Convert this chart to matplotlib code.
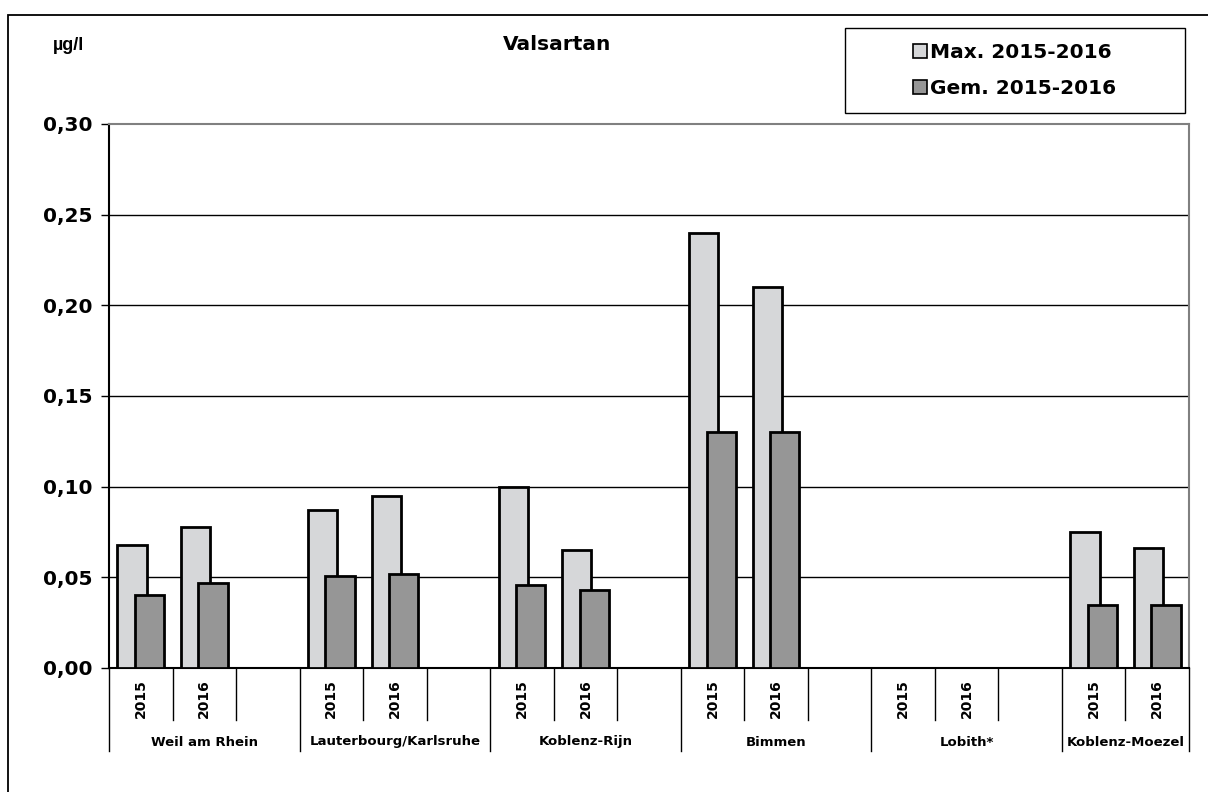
import matplotlib
matplotlib.use("Agg")
import matplotlib.pyplot as plt
from matplotlib.patches import Rectangle, Patch
import matplotlib.transforms as mtransforms
import numpy as np

# ---- data ----
stations = ["Weil am Rhein", "Lauterbourg/Karlsruhe", "Koblenz-Rijn", "Bimmen", "Lobith*", "Koblenz-Moezel"]
years = ["2015", "2016"]
# one slot per category; empty slots (None) separate stations
max_values = [0.068, 0.078, None,
              0.087, 0.095, None,
              0.100, 0.065, None,
              0.240, 0.210, None,
              None, None, None,
              0.075, 0.066]
gem_values = [0.040, 0.047, None,
              0.051, 0.052, None,
              0.046, 0.043, None,
              0.130, 0.130, None,
              None, None, None,
              0.035, 0.035]
slot_labels = ["2015", "2016", "",
               "2015", "2016", "",
               "2015", "2016", "",
               "2015", "2016", "",
               "2015", "2016", "",
               "2015", "2016"]
station_slots = [3, 3, 3, 3, 3, 2]
yticks = [0.00, 0.05, 0.10, 0.15, 0.20, 0.25, 0.30]
series_names = ["Max. 2015-2016", "Gem. 2015-2016"]
c_max = "#d6d7d9"
c_gem = "#969696"

W, H = 1208, 792
fig = plt.figure(figsize=(W / 100, H / 100), dpi=100)

# outer frame
fig.patches.append(Rectangle((8 / W, -0.01), 1.02 - 8 / W, 1 - 15 / H + 0.01,
                             transform=fig.transFigure, fill=False,
                             edgecolor="black", linewidth=1.3))

ax_l, ax_r, ax_t, ax_b = 109, 1189, 124, 668
ax = fig.add_axes([ax_l / W, 1 - ax_b / H, (ax_r - ax_l) / W, (ax_b - ax_t) / H])

n = len(max_values)
x = np.arange(n)
bw = 0.46
off = 0.137
mv = np.array([v if v is not None else np.nan for v in max_values])
gv = np.array([v if v is not None else np.nan for v in gem_values])

ax.bar(x - off, mv, width=bw, color=c_max, edgecolor="black", linewidth=2.0, zorder=3)
ax.bar(x + off, gv, width=bw, color=c_gem, edgecolor="black", linewidth=2.0, zorder=4)

ax.set_xlim(-0.5, n - 0.5)
ax.set_ylim(0, 0.30)
ax.set_yticks(yticks)
ax.set_yticklabels([f"{v:.2f}".replace(".", ",") for v in yticks],
                   fontsize=14.5, fontweight="bold", family="DejaVu Sans")
ax.tick_params(axis="y", direction="out", length=6, width=1, pad=6)
ax.set_xticks([])
for yv in yticks[1:-1]:
    ax.axhline(yv, color="black", linewidth=1.0, zorder=1)

for s in ["top", "right"]:
    ax.spines[s].set_color("#808080")
    ax.spines[s].set_linewidth(1.5)
ax.spines["left"].set_linewidth(1.5)
ax.spines["bottom"].set_linewidth(1.5)

# category axis: separators and labels
trans = mtransforms.blended_transform_factory(ax.transData, ax.transAxes)
px = 1 / (ax_b - ax_t)
minor_end = -(720 - ax_b) * px
major_end = -(751 - ax_b) * px
year_y = -(699 - ax_b) * px
station_y = -(742 - ax_b) * px

group_edges = [-0.5]
for k in station_slots:
    group_edges.append(group_edges[-1] + k)
for b in np.arange(-0.5, n, 1.0):
    is_major = any(abs(b - g) < 1e-9 for g in group_edges)
    ax.plot([b, b], [0, major_end if is_major else minor_end], color="black",
            linewidth=1.0, transform=trans, clip_on=False)

for i, lab in enumerate(slot_labels):
    if lab:
        ax.text(i, year_y, lab, rotation=90, ha="center", va="center",
                fontsize=10, fontweight="bold", transform=trans)

for k, name in enumerate(stations):
    cx = (group_edges[k] + group_edges[k + 1]) / 2
    ax.text(cx, station_y, name, ha="center", va="center",
            fontsize=9.5, fontweight="bold", transform=trans)

# titles
fig.text(557 / W, 1 - 45 / H, "Valsartan", ha="center", va="center",
         fontsize=14.5, fontweight="bold", family="DejaVu Sans")
fig.text(68 / W, 1 - 46 / H, "µg/l", ha="center", va="center",
         fontsize=13, fontweight="bold", family="Liberation Sans")

# legend box
lx0, lx1, ly0, ly1 = 845, 1185, 28, 113
fig.patches.append(Rectangle((lx0 / W, 1 - ly1 / H), (lx1 - lx0) / W, (ly1 - ly0) / H,
                             transform=fig.transFigure, fill=True, facecolor="white",
                             edgecolor="black", linewidth=1.0, zorder=5))
handles = [Patch(facecolor=c_max, edgecolor="black", linewidth=1.2),
           Patch(facecolor=c_gem, edgecolor="black", linewidth=1.2)]
leg = fig.legend(handles, series_names, loc="center",
                 bbox_to_anchor=((lx0 + lx1) / 2 / W, 1 - (ly0 + ly1) / 2 / H),
                 frameon=False, prop={"size": 14.5, "weight": "bold"},
                 handlelength=0.7, handleheight=0.7, handletextpad=0.15,
                 labelspacing=0.85)
leg.set_zorder(6)

fig.savefig("out.png", dpi=100)
